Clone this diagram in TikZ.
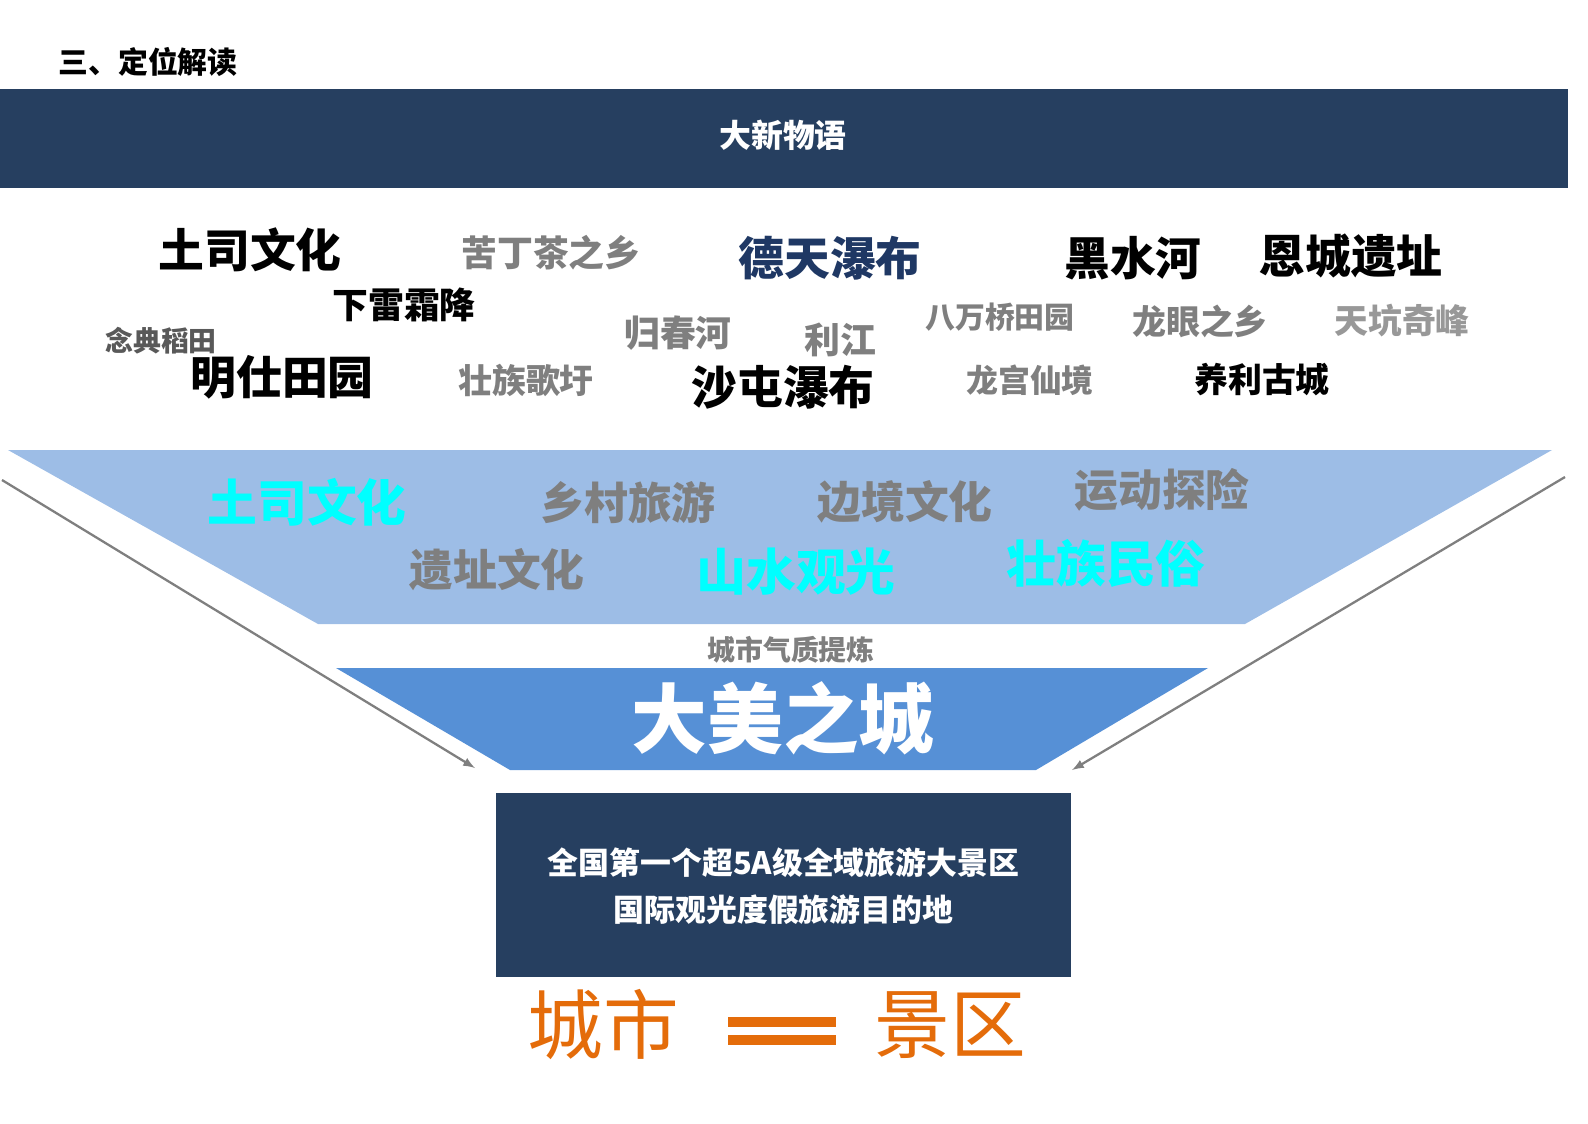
\documentclass[tikz,border=0pt]{standalone}
\usepackage{fontspec}
\setmainfont{Noto Sans CJK SC}
\definecolor{navy}{HTML}{263F60}
\definecolor{lightb}{HTML}{9DBDE6}
\definecolor{midb}{HTML}{5690D6}
\definecolor{gr}{HTML}{7F7F7F}
\definecolor{dgr}{HTML}{595959}
\definecolor{dblue}{HTML}{1F3864}
\definecolor{cy}{HTML}{00FFFF}
\definecolor{org}{HTML}{E46C0A}
\newdimen\pxu \pxu=0.567pt
\newcommand{\px}[1]{\fontsize{#1\pxu}{1.25\dimexpr#1\pxu\relax}\selectfont}
\tikzset{w/.style={inner sep=0pt,font=\bfseries},
 sz/.style={font=\bfseries\px{#1}}}
\begin{document}
\begin{tikzpicture}[x=0.02cm,y=-0.02cm]
\node[w,anchor=west,sz=30] (title) at (58,62) {三、定位解读};
\fill[navy] (0,89) rectangle (1568,188);
\node[w,white,sz=32] (band) at (783,135) {大新物语};
% words
\node[w,sz=46] (a1) at (250,250) {土司文化};
\node[w,sz=36,gr] (a2) at (551,253) {苦丁茶之乡};
\node[w,sz=46,dblue] (a3) at (830,258) {德天瀑布};
\node[w,sz=46] (a4) at (1133,258) {黑水河};
\node[w,sz=46] (a5) at (1351,256) {恩城遗址};
\node[w,sz=36] (a6) at (404,305) {下雷霜降};
\node[w,sz=28,dgr] (a7) at (161,341) {念典稻田};
\node[w,sz=46] (a8) at (282,377) {明仕田园};
\node[w,sz=36,gr] (a9) at (678,333) {归春河};
\node[w,sz=36,gr] (a10) at (840,340) {利江};
\node[w,sz=30,gr] (a11) at (1000,317) {八万桥田园};
\node[w,sz=34,gr] (a12) at (1200,321) {龙眼之乡};
\node[w,sz=34,gr!80] (a13) at (1402,321) {天坑奇峰};
\node[w,sz=34,gr] (a14) at (526,380) {壮族歌圩};
\node[w,sz=46] (a15) at (783,387) {沙屯瀑布};
\node[w,sz=32,gr] (a16) at (1030,380) {龙宫仙境};
\node[w,sz=34] (a17) at (1262,380) {养利古城};
% light trapezoid
\fill[lightb] (8,450) -- (1552,450) -- (1245,624) -- (318,624) -- cycle;
\node[w,sz=50,cy] (b1) at (307,502) {土司文化};
\node[w,sz=44,gr] (b2) at (628,503) {乡村旅游};
\node[w,sz=44,gr] (b3) at (905,502) {边境文化};
\node[w,sz=44,gr] (b4) at (1162,490) {运动探险};
\node[w,sz=44,gr] (b5) at (497,570) {遗址文化};
\node[w,sz=50,cy] (b6) at (796,572) {山水观光};
\node[w,sz=50,cy] (b7) at (1106,563) {壮族民俗};
\node[w,sz=28,gr] (lbl) at (791,650) {城市气质提炼};
\fill[midb] (336,668) -- (1208,668) -- (1036,770) -- (510,770) -- cycle;
\node[w,sz=76,white] (city) at (783,718) {大美之城};
\coordinate (l0) at (2,480); \coordinate (l1) at (475,768);
\coordinate (r0) at (1565,477); \coordinate (r1) at (1072,770);
\draw[gr,line width=1.3pt,-latex] (l0) -- (l1);
\draw[gr,line width=1.3pt,-latex] (r0) -- (r1);
\node[fill=navy,minimum width=11.5cm,minimum height=3.68cm,inner sep=0pt] (box) at (783.5,885) {};
\node[w,white,sz=31,align=center] (boxt) at (783.5,886) {全国第一个超5A级全域旅游大景区\\[5pt]国际观光度假旅游目的地};
\node[inner sep=0pt,org,font=\px{76}] (c1) at (603,1025) {城市};
\node[inner sep=0pt,org,font=\px{76}] (c2) at (950,1025) {景区};
\fill[org] (728,1017) rectangle (836,1027);
\fill[org] (728,1035) rectangle (836,1045);
\pgfresetboundingbox
\useasboundingbox (0,0) rectangle (1588,1123);
\end{tikzpicture}
\end{document}
